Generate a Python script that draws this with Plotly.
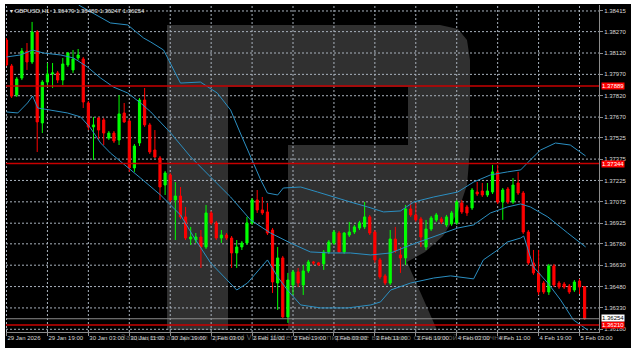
import plotly.graph_objects as go

# ---------------- data ----------------
symbol_header = "GBPUSD,H1  1.36479 1.36483 1.36247 1.36254"

tick_bars = [0, 8, 16, 24, 32, 40, 48, 56, 64, 72, 80, 88, 96, 104, 112]
tick_labels = ["29 Jan 2026", "29 Jan 19:00", "30 Jan 03:00", "30 Jan 11:00", "30 Jan 19:00",
               "2 Feb 03:00", "2 Feb 11:00", "2 Feb 19:00", "3 Feb 03:00", "3 Feb 11:00",
               "3 Feb 19:00", "4 Feb 03:00", "4 Feb 11:00", "4 Feb 19:00", "5 Feb 03:00"]

price_ticks = [1.38415, 1.38270, 1.38120, 1.37970, 1.37820, 1.37670, 1.37525, 1.37375,
               1.37225, 1.37075, 1.36925, 1.36780, 1.36630, 1.36480, 1.36330, 1.36180]

opens = [1.38211, 1.38029, 1.37825, 1.37944, 1.38134, 1.38057, 1.38267, 1.37629, 1.37916, 1.37973,
         1.37980, 1.37930, 1.38036, 1.38001, 1.38085, 1.38078, 1.37769, 1.37601, 1.37664, 1.37650,
         1.37523, 1.37558, 1.37509, 1.37699, 1.37643, 1.37313, 1.37488, 1.37790, 1.37615, 1.37439,
         1.37383, 1.37193, 1.37264, 1.37088, 1.37116, 1.36969, 1.36814, 1.36807, 1.36828, 1.36758,
         1.36997, 1.36927, 1.36821, 1.36842, 1.36821, 1.36716, 1.36758, 1.36786, 1.36927, 1.37088,
         1.37018, 1.37004, 1.36877, 1.36505, 1.36681, 1.36267, 1.36491, 1.36583, 1.36491, 1.36590,
         1.36653, 1.36646, 1.36639, 1.36723, 1.36786, 1.36856, 1.36723, 1.36842, 1.36863, 1.36891,
         1.36899, 1.36969, 1.36863, 1.36667, 1.36555, 1.36505, 1.36814, 1.36702, 1.36681, 1.37025,
         1.36983, 1.36955, 1.36758, 1.36884, 1.36948, 1.36955, 1.36913, 1.36920, 1.36927, 1.37067,
         1.37039, 1.37032, 1.37144, 1.37151, 1.37123, 1.37144, 1.37285, 1.37074, 1.37165, 1.37074,
         1.37207, 1.37137, 1.36863, 1.36646, 1.36576, 1.36505, 1.36442, 1.36625, 1.36505, 1.36498,
         1.36484, 1.36456, 1.36519, 1.36479]
highs = [1.38225, 1.38043, 1.37951, 1.38155, 1.38190, 1.38338, 1.38281, 1.37930, 1.38050, 1.38050,
         1.37994, 1.38085, 1.38127, 1.38141, 1.38148, 1.38092, 1.37783, 1.37671, 1.37671, 1.37664,
         1.37572, 1.37572, 1.37825, 1.37769, 1.37657, 1.37481, 1.37804, 1.37874, 1.37629, 1.37579,
         1.37397, 1.37292, 1.37278, 1.37214, 1.37179, 1.37039, 1.36899, 1.36856, 1.36877, 1.37053,
         1.37011, 1.36941, 1.36877, 1.36856, 1.36835, 1.36807, 1.36800, 1.36969, 1.37102, 1.37158,
         1.37109, 1.37067, 1.36891, 1.36758, 1.36695, 1.36576, 1.36597, 1.36611, 1.36632, 1.36667,
         1.36660, 1.36653, 1.36737, 1.36807, 1.36877, 1.36870, 1.36863, 1.36934, 1.36913, 1.36941,
         1.37074, 1.36983, 1.36877, 1.36681, 1.36569, 1.36877, 1.36899, 1.36758, 1.37053, 1.37067,
         1.37067, 1.36969, 1.36948, 1.36976, 1.36997, 1.36969, 1.36983, 1.37011, 1.37088, 1.37088,
         1.37053, 1.37172, 1.37214, 1.37207, 1.37207, 1.37334, 1.37334, 1.37172, 1.37179, 1.37242,
         1.37285, 1.37151, 1.36877, 1.36737, 1.36737, 1.36519, 1.36639, 1.36639, 1.36519, 1.36512,
         1.36498, 1.36526, 1.36534, 1.36483]
lows = [1.38029, 1.37804, 1.37811, 1.37930, 1.38001, 1.38043, 1.37425, 1.37558, 1.37881, 1.37874,
        1.37909, 1.37895, 1.38022, 1.37980, 1.38071, 1.37734, 1.37579, 1.37369, 1.37509, 1.37474,
        1.37509, 1.37488, 1.37474, 1.37629, 1.37285, 1.37285, 1.37467, 1.37601, 1.37411, 1.37383,
        1.37088, 1.37123, 1.37074, 1.36807, 1.36955, 1.36807, 1.36772, 1.36786, 1.36611, 1.36744,
        1.36913, 1.36807, 1.36786, 1.36807, 1.36611, 1.36611, 1.36737, 1.36772, 1.36913, 1.36997,
        1.36983, 1.36842, 1.36435, 1.36316, 1.36260, 1.36225, 1.36421, 1.36477, 1.36421, 1.36576,
        1.36632, 1.36625, 1.36597, 1.36709, 1.36772, 1.36716, 1.36709, 1.36828, 1.36849, 1.36877,
        1.36884, 1.36842, 1.36646, 1.36534, 1.36491, 1.36491, 1.36716, 1.36576, 1.36632, 1.36969,
        1.36934, 1.36758, 1.36737, 1.36870, 1.36934, 1.36920, 1.36899, 1.36906, 1.36913, 1.36990,
        1.36976, 1.37018, 1.37116, 1.37109, 1.37109, 1.37130, 1.37060, 1.36948, 1.37060, 1.37060,
        1.37123, 1.36849, 1.36632, 1.36562, 1.36421, 1.36428, 1.36421, 1.36477, 1.36463, 1.36463,
        1.36428, 1.36442, 1.36428, 1.36247]
closes = [1.38036, 1.37818, 1.37937, 1.38134, 1.38057, 1.38267, 1.37636, 1.37916, 1.37973, 1.37980,
          1.37930, 1.38043, 1.38120, 1.38078, 1.38106, 1.37776, 1.37601, 1.37615, 1.37579, 1.37558,
          1.37558, 1.37502, 1.37692, 1.37636, 1.37313, 1.37467, 1.37790, 1.37615, 1.37425, 1.37390,
          1.37179, 1.37278, 1.37088, 1.37116, 1.36969, 1.36821, 1.36828, 1.36828, 1.36758, 1.36997,
          1.36927, 1.36821, 1.36842, 1.36821, 1.36716, 1.36758, 1.36786, 1.36927, 1.37088, 1.37018,
          1.36997, 1.36856, 1.36512, 1.36681, 1.36267, 1.36526, 1.36583, 1.36505, 1.36590, 1.36653,
          1.36646, 1.36632, 1.36723, 1.36793, 1.36863, 1.36723, 1.36856, 1.36863, 1.36899, 1.36927,
          1.36969, 1.36856, 1.36667, 1.36548, 1.36505, 1.36814, 1.36730, 1.36681, 1.37025, 1.36983,
          1.36948, 1.36828, 1.36884, 1.36962, 1.36983, 1.36934, 1.36969, 1.36997, 1.37074, 1.37004,
          1.36997, 1.37158, 1.37130, 1.37123, 1.37151, 1.37285, 1.37074, 1.37158, 1.37074, 1.37193,
          1.37137, 1.36863, 1.36646, 1.36576, 1.36442, 1.36442, 1.36625, 1.36491, 1.36477, 1.36477,
          1.36442, 1.36512, 1.36477, 1.36254]

# Bollinger bands, read as (bar position, price) points from the picture
bb_upper_x = [14.1, 18.4, 20.3, 23.7, 26.8, 28.2, 30.7, 34.0, 37.9, 41.2, 43.8, 45.7, 47.7, 49.7,
              51.0, 53.0, 54.1, 57.5, 60.8, 63.9, 67.2, 70.6, 73.7, 77.0, 79.6, 83.5, 88.2, 91.3,
              94.6, 97.9, 100.5, 102.4, 104.4, 107.3, 110.2, 113.2]
bb_upper_y = [1.38457, 1.38373, 1.38331, 1.38317, 1.38225, 1.38197, 1.38141, 1.37909, 1.37916,
              1.37839, 1.37720, 1.37558, 1.37390, 1.37228, 1.37137, 1.37123, 1.37172, 1.37179,
              1.37144, 1.37109, 1.37074, 1.37039, 1.37004, 1.37011, 1.37074, 1.37109, 1.37144,
              1.37214, 1.37264, 1.37285, 1.37299, 1.37369, 1.37439, 1.37488, 1.37474, 1.37397]
bb_mid_x = [0.0, 2.7, 5.1, 7.2, 10.6, 13.1, 15.8, 18.4, 20.9, 23.7, 26.2, 28.2, 32.1, 36.0, 39.9,
            43.8, 47.7, 51.6, 55.5, 59.4, 63.3, 67.2, 71.2, 75.1, 79.0, 82.9, 88.2, 91.3, 94.6,
            97.9, 100.5, 102.4, 105.8, 109.7, 113.2]
bb_mid_y = [1.38092, 1.38106, 1.38141, 1.38120, 1.38106, 1.38085, 1.38022, 1.37944, 1.37881,
            1.37839, 1.37769, 1.37706, 1.37558, 1.37390, 1.37249, 1.37109, 1.36948, 1.36856,
            1.36786, 1.36723, 1.36716, 1.36716, 1.36702, 1.36716, 1.36772, 1.36821, 1.36891,
            1.36913, 1.36997, 1.37039, 1.37060, 1.37039, 1.36969, 1.36856, 1.36758]
bb_low_x = [0.0, 2.2, 4.1, 5.1, 6.1, 8.6, 11.9, 14.5, 16.4, 18.4, 20.3, 26.2, 30.1, 34.0, 36.6,
            39.9, 43.2, 45.0, 47.1, 49.7, 51.0, 53.0, 54.9, 57.5, 61.4, 66.7, 71.2, 73.1, 75.1,
            79.0, 83.5, 86.8, 91.3, 93.2, 96.0, 97.9, 100.5, 101.1, 103.0, 105.8, 108.3, 110.8,
            113.6]
bb_low_y = [1.37706, 1.37699, 1.37769, 1.37818, 1.37734, 1.37720, 1.37699, 1.37671, 1.37594,
            1.37488, 1.37418, 1.37242, 1.37123, 1.36983, 1.36828, 1.36646, 1.36526, 1.36456,
            1.36505, 1.36618, 1.36667, 1.36548, 1.36456, 1.36351, 1.36330, 1.36330, 1.36351,
            1.36372, 1.36456, 1.36505, 1.36540, 1.36555, 1.36534, 1.36667, 1.36737, 1.36793,
            1.36821, 1.36835, 1.36618, 1.36505, 1.36386, 1.36246, 1.36175]

red_levels = [1.37889, 1.37344, 1.36210]
bid_price = 1.36254

watermark_text = "Защищено авторским правом / Visual Watermark: копирование возможно со ссылкой на источник"

# ---------------- layout geometry ----------------
W, H = 633, 348
ML, MR, MT, MB = 6, 34, 5, 16
PW, PH = W - ML - MR, H - MT - MB
X_RANGE = [-0.1, -0.1 + PW / 5.116]
Y_RANGE = [1.36161, 1.38457]


def px(xp):
    return (xp - ML) / PW


def py(yp):
    return (H - MB - yp) / PH


bars = list(range(len(opens)))

fig = go.Figure()

fig.add_trace(go.Candlestick(
    x=bars, open=opens, high=highs, low=lows, close=closes,
    increasing=dict(line=dict(color="#00ff00", width=1), fillcolor="#00ff00"),
    decreasing=dict(line=dict(color="#ff0000", width=1), fillcolor="#ff0000"),
    whiskerwidth=0, hoverinfo="skip", showlegend=False,
))

band_color = "#2b8fc2"
for bx, by in ((bb_upper_x, bb_upper_y), (bb_mid_x, bb_mid_y), (bb_low_x, bb_low_y)):
    fig.add_trace(go.Scatter(x=bx, y=by, mode="lines",
                             line=dict(color=band_color, width=1),
                             hoverinfo="skip", showlegend=False))

shapes = []
# big "R" watermark (drawn below the data)
wm = "#303030"


def path(points):
    return "M " + " L ".join(f"{px(a):.5f},{py(b):.5f}" for a, b in points) + " Z"


shapes.append(dict(type="path", xref="paper", yref="paper", layer="below",
                   path=path([(167, 25), (228, 25), (228, 330), (167, 330)]),
                   fillcolor=wm, line=dict(width=0)))
shapes.append(dict(type="path", xref="paper", yref="paper", layer="below",
                   path=path([(228, 25), (440, 25), (458, 29), (467, 40), (470, 60), (470, 150),
                              (467, 185), (458, 212), (443, 236), (425, 252), (407, 262),
                              (437, 330), (288, 330), (288, 145), (408, 145), (408, 87),
                              (228, 87)]),
                   fillcolor=wm, line=dict(width=0)))

# dotted chart grid at the axis ticks (above the watermark, below the candles)
grid_color = "#a9b2bd"
for tb in tick_bars:
    shapes.append(dict(type="line", xref="x", yref="paper", x0=tb, x1=tb, y0=0, y1=1,
                       line=dict(color=grid_color, width=1, dash="2px,2px"), layer="below"))
for pt in price_ticks:
    shapes.append(dict(type="line", xref="paper", yref="y", x0=0, x1=1, y0=pt, y1=pt,
                       line=dict(color=grid_color, width=1, dash="2px,2px"), layer="below"))

# white frame of the screenshot
shapes.append(dict(type="rect", xref="paper", yref="paper", x0=px(0), x1=px(W), y0=py(0), y1=py(4),
                   fillcolor="white", line=dict(width=0), layer="above"))
shapes.append(dict(type="rect", xref="paper", yref="paper", x0=px(0), x1=px(5), y0=py(0), y1=py(H),
                   fillcolor="white", line=dict(width=0), layer="above"))
shapes.append(dict(type="rect", xref="paper", yref="paper", x0=px(631), x1=px(W), y0=py(0), y1=py(H),
                   fillcolor="white", line=dict(width=0), layer="above"))

for lvl in red_levels:
    shapes.append(dict(type="line", xref="paper", yref="y", x0=0, x1=1, y0=lvl, y1=lvl,
                       line=dict(color="#c80000", width=1.5), layer="above"))
shapes.append(dict(type="line", xref="paper", yref="y", x0=0, x1=1, y0=bid_price, y1=bid_price,
                   line=dict(color="#8c8c8c", width=1), layer="above"))

font_family = "Liberation Sans, Arial, sans-serif"
annotations = []
annotations.append(dict(xref="paper", yref="paper", x=px(8), y=py(11), xanchor="left",
                        yanchor="middle", showarrow=False, text="▾ " + symbol_header,
                        font=dict(color="#e0e0e0", size=6, family=font_family)))
for lvl in red_levels:
    annotations.append(dict(xref="paper", yref="y", x=px(601), y=lvl, xanchor="left",
                            yanchor="middle", showarrow=False, text=f"{lvl:.5f}",
                            bgcolor="#ff0000", borderpad=0,
                            font=dict(color="white", size=6, family=font_family)))
annotations.append(dict(xref="paper", yref="y", x=px(601), y=bid_price + 0.00003, xanchor="left",
                        yanchor="middle", showarrow=False, text=f"{bid_price:.5f}",
                        bgcolor="white", borderpad=0,
                        font=dict(color="black", size=6, family=font_family)))
annotations.append(dict(xref="paper", yref="paper", x=px(315), y=py(338), xanchor="center",
                        yanchor="middle", showarrow=False, text=watermark_text,
                        font=dict(color="rgba(170,170,170,0.55)", size=7.5, family="DejaVu Sans")))

axis_common = dict(showgrid=False, zeroline=False, showline=True, linecolor="#8c8c8c",
                   linewidth=1, ticks="outside", ticklen=3, tickcolor="#8c8c8c", tickangle=0,
                   tickfont=dict(color="#d8d8d8", size=6, family=font_family))

fig.update_layout(
    width=W, height=H,
    margin=dict(l=ML, r=MR, t=MT, b=MB),
    paper_bgcolor="black", plot_bgcolor="black",
    showlegend=False, boxgap=0.4,
    shapes=shapes, annotations=annotations,
    xaxis=dict(range=X_RANGE, tickmode="array", tickvals=tick_bars, ticktext=tick_labels,
               ticklabelposition="outside right", rangeslider=dict(visible=False),
               **axis_common),
    yaxis=dict(range=Y_RANGE, side="right", tickmode="array", tickvals=price_ticks,
               ticktext=[f"{v:.5f}" for v in price_ticks], **axis_common),
)

fig.write_html("out.html", config={"displayModeBar": False})
